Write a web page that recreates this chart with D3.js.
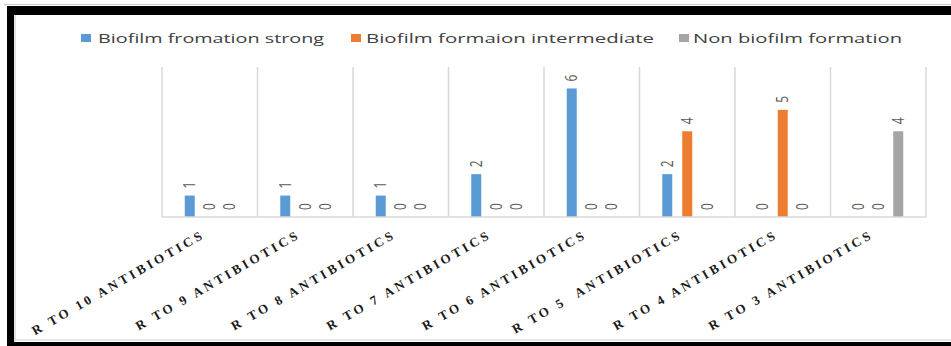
<!DOCTYPE html>
<html>
<head>
<meta charset="utf-8">
<script src="https://cdn.jsdelivr.net/npm/d3@7/dist/d3.min.js"></script>
<style>
  html, body { margin: 0; padding: 0; background: #fff; }
  svg { display: block; }
</style>
</head>
<body>
<svg id="chart" width="951" height="346"></svg>
<script>
const categories = [
  "R TO 10 ANTIBIOTICS",
  "R TO 9 ANTIBIOTICS",
  "R TO 8 ANTIBIOTICS",
  "R TO 7 ANTIBIOTICS",
  "R TO 6 ANTIBIOTICS",
  "R TO 5  ANTIBIOTICS",
  "R TO 4 ANTIBIOTICS",
  "R TO 3 ANTIBIOTICS"
];
const seriesNames = ["Biofilm fromation strong", "Biofilm formaion intermediate", "Non biofilm formation"];
const strongValues       = [1, 1, 1, 2, 6, 2, 0, 0];
const intermediateValues = [0, 0, 0, 0, 0, 4, 5, 0];
const nonValues          = [0, 0, 0, 0, 0, 0, 0, 4];
const colors = ["#5b9bd5", "#ed7d31", "#a5a5a5"];

const seriesValues = [strongValues, intermediateValues, nonValues];

const svg = d3.select("#chart");

// frame
svg.append("rect").attr("x", 0).attr("y", 0).attr("width", 951).attr("height", 346).attr("fill", "#fff");
svg.append("line").attr("x1", 4).attr("x2", 951).attr("y1", 4.5).attr("y2", 4.5).attr("stroke", "#c8c8c8").attr("stroke-width", 1);
svg.append("rect").attr("x", 7).attr("y", 6).attr("width", 944).attr("height", 9).attr("fill", "#000");
svg.append("rect").attr("x", 7).attr("y", 6).attr("width", 7).attr("height", 340).attr("fill", "#000");
svg.append("rect").attr("x", 7).attr("y", 342).attr("width", 944).attr("height", 4).attr("fill", "#000");
svg.append("line").attr("x1", 15).attr("x2", 951).attr("y1", 340).attr("y2", 340).attr("stroke", "#d0d0d0").attr("stroke-width", 1);
svg.append("line").attr("x1", 15).attr("x2", 15).attr("y1", 15).attr("y2", 342).attr("stroke", "#c8c8c8").attr("stroke-width", 1);

// scales
const x0 = d3.scaleBand().domain(categories).range([162, 926]).paddingInner(0).paddingOuter(0);
const x1 = d3.scaleBand().domain(d3.range(seriesNames.length)).range([0, 60]).paddingInner(0.5).paddingOuter(0.25);
const groupOffset = (x0.bandwidth() - 60) / 2;
const y = d3.scaleLinear().domain([0, 7]).range([217, 67]);

// vertical category grid lines
const bounds = categories.map(c => x0(c)).concat([x0.range()[1]]);
svg.append("g").selectAll("line").data(bounds).join("line")
  .attr("x1", d => d).attr("x2", d => d)
  .attr("y1", y(7)).attr("y2", y(0))
  .attr("stroke", "#d9d9d9").attr("stroke-width", 1.5);

// bars
const flat = [];
categories.forEach((c, i) => {
  seriesValues.forEach((vals, s) => {
    flat.push({ cat: c, s: s, v: vals[i] });
  });
});

const gBars = svg.append("g");
gBars.selectAll("rect").data(flat.filter(d => d.v > 0)).join("rect")
  .attr("x", d => x0(d.cat) + groupOffset + x1(d.s))
  .attr("width", x1.bandwidth())
  .attr("y", d => y(d.v))
  .attr("height", d => y(0) - y(d.v))
  .attr("fill", d => colors[d.s]);

// axis line
svg.append("line").attr("x1", x0.range()[0]).attr("x2", x0.range()[1])
  .attr("y1", y(0)).attr("y2", y(0)).attr("stroke", "#d9d9d9").attr("stroke-width", 1.5);

// data labels (rotated)
svg.append("g").selectAll("text").data(flat).join("text")
  .attr("transform", d => {
    const cx = x0(d.cat) + groupOffset + x1(d.s) + x1.bandwidth() / 2;
    return `translate(${cx},${y(d.v) - 7}) scale(1.3,1) rotate(-90)`;
  })
  .attr("dy", "0.35em")
  .attr("text-anchor", "start")
  .attr("font-family", "'Open Sans', 'Liberation Sans', sans-serif")
  .attr("font-size", 12)
  .attr("fill", "#595959")
  .text(d => d.v);

// x category labels
svg.append("g").selectAll("text").data(categories).join("text")
  .attr("transform", d => `translate(${x0(d) + x0.bandwidth() / 2 - 4},237) rotate(-30)`)
  .attr("text-anchor", "end")
  .attr("font-family", "'Liberation Serif', 'Times New Roman', serif")
  .attr("font-weight", "bold")
  .attr("font-size", 13)
  .attr("letter-spacing", "3.2px")
  .attr("fill", "#1a1a1a")
  .style("white-space", "pre")
  .text(d => d);

// legend
const legendLayout = [
  { sx: 81, tx: 98, tw: 226 },
  { sx: 351, tx: 366, tw: 288 },
  { sx: 679, tx: 693, tw: 209 }
];
const gLeg = svg.append("g");
seriesNames.forEach((name, i) => {
  const L = legendLayout[i];
  gLeg.append("rect").attr("x", L.sx).attr("y", 34).attr("width", 10).attr("height", 8).attr("fill", colors[i]);
  gLeg.append("text").attr("x", L.tx).attr("y", 43)
    .attr("font-family", "'Open Sans', 'Liberation Sans', sans-serif")
    .attr("font-size", 13.5)
    .attr("fill", "#404040")
    .attr("textLength", L.tw)
    .attr("lengthAdjust", "spacingAndGlyphs")
    .text(name);
});
</script>
</body>
</html>
